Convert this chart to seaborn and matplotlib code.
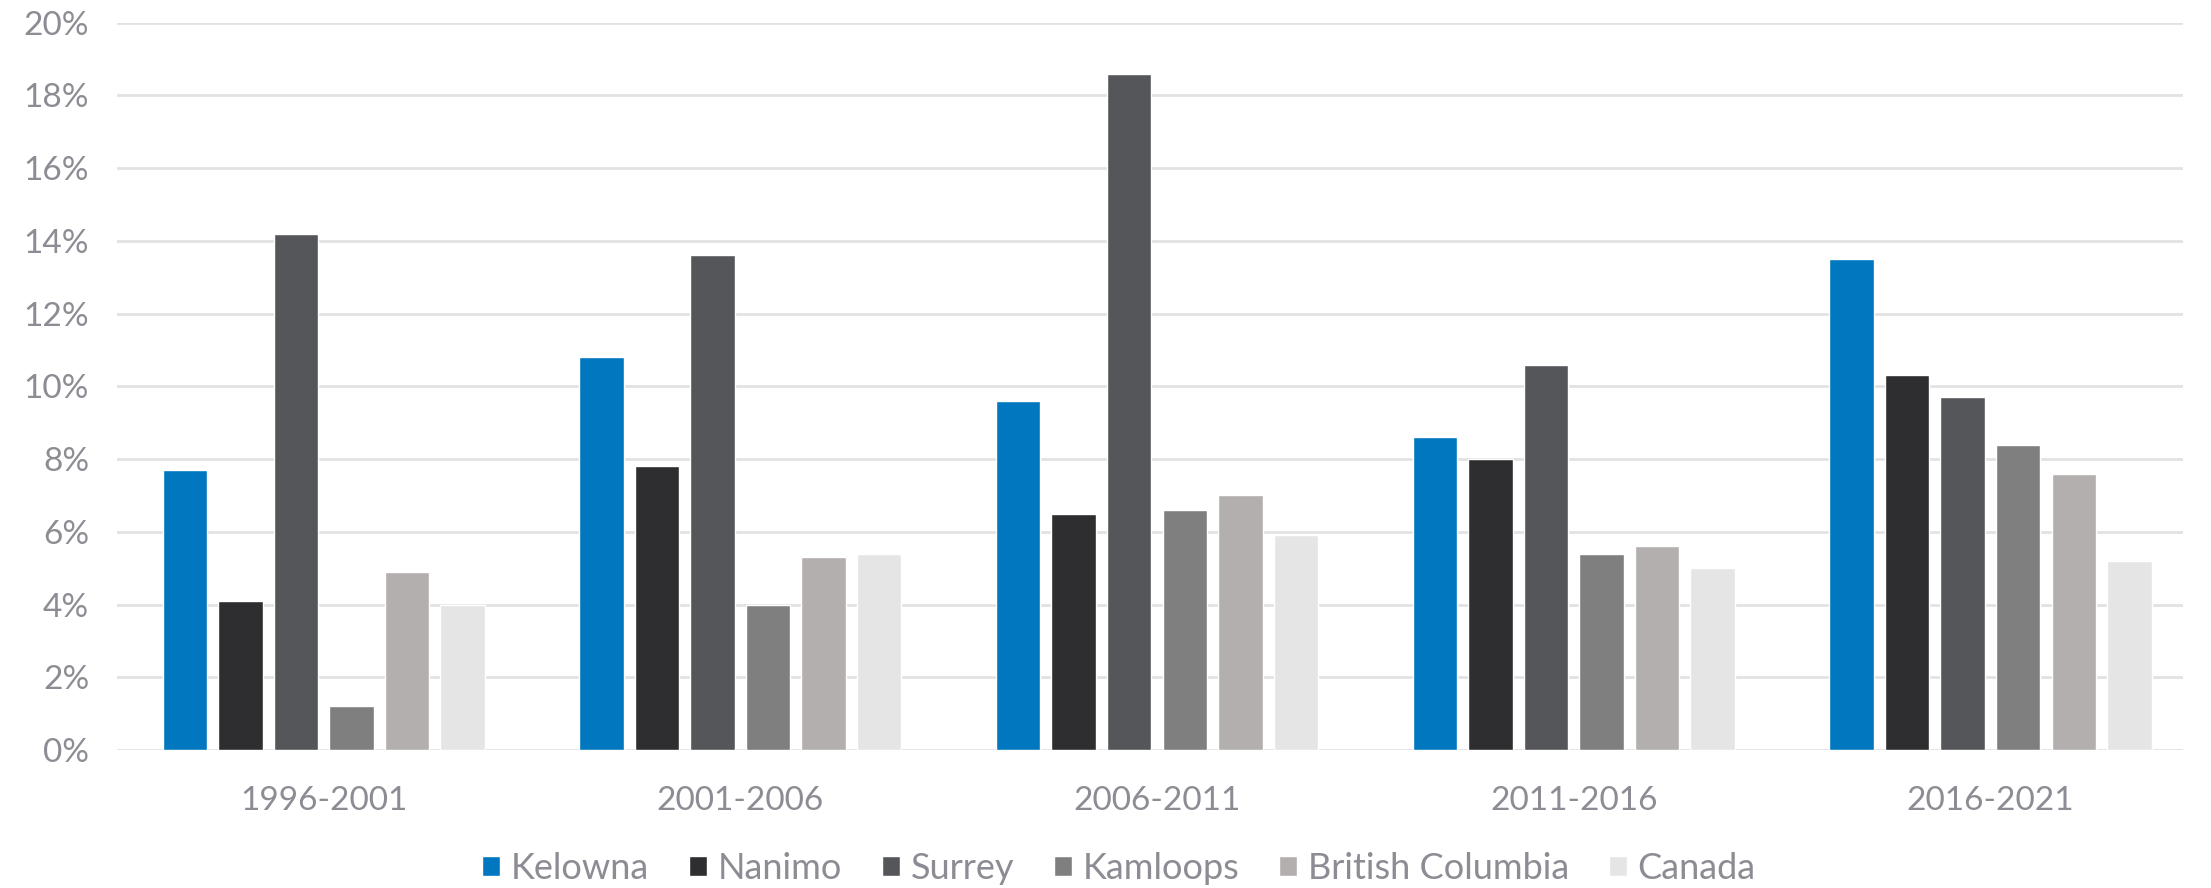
import matplotlib
matplotlib.use("Agg")
import matplotlib.pyplot as plt
import seaborn as sns
import pandas as pd
from matplotlib.ticker import PercentFormatter, MultipleLocator

periods = ["1996-2001", "2001-2006", "2006-2011", "2011-2016", "2016-2021"]
series = ["Kelowna", "Nanimo", "Surrey", "Kamloops", "British Columbia", "Canada"]
kelowna = [7.7, 10.8, 9.6, 8.6, 13.5]
nanimo = [4.1, 7.8, 6.5, 8.0, 10.3]
surrey = [14.2, 13.6, 18.6, 10.6, 9.7]
kamloops = [1.2, 4.0, 6.6, 5.4, 8.4]
bc = [4.9, 5.3, 7.0, 5.6, 7.6]
canada = [4.0, 5.4, 5.9, 5.0, 5.2]
colors = ["#0077BF", "#2E2E30", "#55565A", "#7F7F7F", "#B3AFAE", "#E5E5E5"]

rows = []
for name, vals in zip(series, [kelowna, nanimo, surrey, kamloops, bc, canada]):
    for p, v in zip(periods, vals):
        rows.append({"Period": p, "Series": name, "Value": v})
df = pd.DataFrame(rows)

sns.set_theme(style="white")
plt.rcParams["font.family"] = ["Lato", "DejaVu Sans"]
text_color = "#8C8C94"

fig = plt.figure(figsize=(22.11, 8.88), dpi=100)
ax = fig.add_axes([0.0529, 0.1554, 0.9344, 0.8191])

sns.barplot(data=df, x="Period", y="Value", hue="Series", order=periods,
            hue_order=series, palette=colors, width=0.8, gap=0.2,
            saturation=1, ax=ax, legend=True)

ax.set_ylim(0, 20)
ax.set_xlim(-0.496, 4.462)
ax.yaxis.set_major_locator(MultipleLocator(2))
ax.yaxis.set_major_formatter(PercentFormatter(decimals=0))
ax.grid(axis="y", color="#E2E2E2", linewidth=2)
ax.set_axisbelow(True)
for s in ["top", "right", "left", "bottom"]:
    ax.spines[s].set_visible(False)
ax.set_xlabel("")
ax.set_ylabel("")
ax.tick_params(axis="both", length=0, colors=text_color, labelsize=24)
ax.tick_params(axis="x", pad=26)
ax.tick_params(axis="y", pad=20)

handles, labels = ax.get_legend_handles_labels()
ax.legend_.remove()
fig.legend(handles, labels, loc="center", bbox_to_anchor=(0.506, 0.022),
           ncol=6, frameon=False, fontsize=26, labelcolor=text_color,
           handlelength=0.5, handleheight=0.5, handletextpad=0.3,
           columnspacing=1.1)

fig.savefig("out.png", dpi=100)
